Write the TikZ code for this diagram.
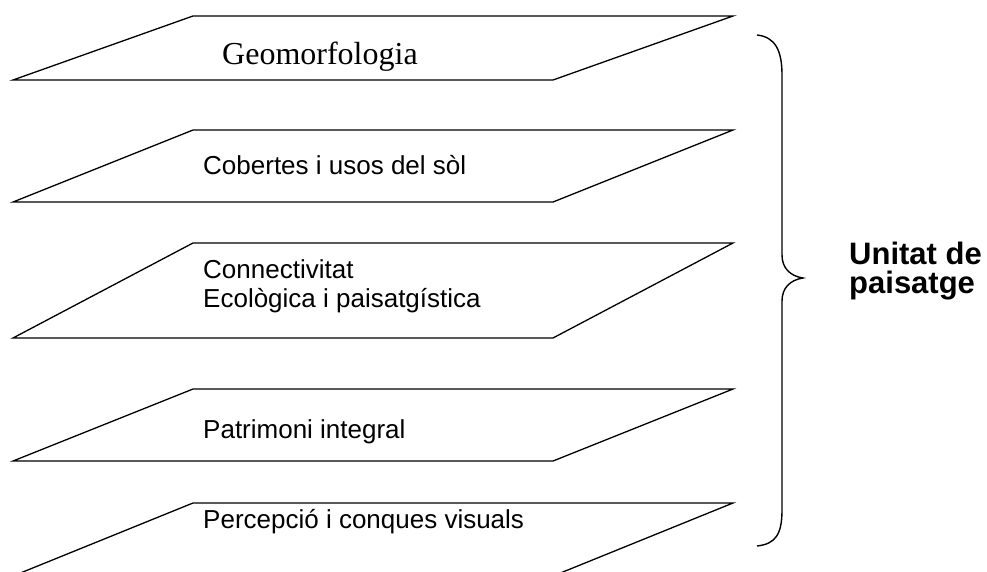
\documentclass[tikz,border=0pt]{standalone}
\usepackage{fontspec}
\setmainfont{Liberation Sans}
\newfontfamily\geofont{Liberation Serif}
\usetikzlibrary{positioning}

\begin{document}
\begin{tikzpicture}[x=1pt, y=-1pt,
    every node/.style={inner sep=0pt, font=\fontsize{26}{30}\selectfont},
    layer/.style={draw=black, line width=1.3pt, line join=miter},
    lbl/.style={anchor=base west},
    big/.style={anchor=base west, font=\bfseries\fontsize{31}{35}\selectfont},
    brace/.style={draw=black, line width=1.4pt}]

  \useasboundingbox (0,0) rectangle (987,572);
  \clip (0,0) rectangle (987,572);

  % capes
  \foreach \ytop/\ybot in {16/80, 130/202, 243/338, 389/461, 503/576}
    \draw[layer] (193,\ytop) -- (733,\ytop) -- (553,\ybot) -- (13,\ybot) -- cycle;

  \node[lbl, font=\geofont\fontsize{32}{36}\selectfont] (geo) at (222,65) {Geomorfologia};
  \node[lbl] (cob) at (203,175) {Cobertes i usos del sòl};
  \node[lbl] (con) at (203,278) {Connectivitat};
  \node[lbl] (eco) at (203,307) {Ecològica i paisatgística};
  \node[lbl] (pat) at (203,438) {Patrimoni integral};
  \node[lbl] (per) at (203,528) {Percepció i conques visuals};

  % clau
  \draw[brace] (757,35) .. controls (775,37) and (782,50) .. (782,75)
    -- (782,255) .. controls (782,268) and (790,276) .. (803,278)
    .. controls (790,280) and (782,288) .. (782,301)
    -- (782,510) .. controls (782,535) and (775,544) .. (757,546);

  \node[big] (uni) at (849,264) {Unitat de};
  \node[big] (pai) at (849,293) {paisatge};
\end{tikzpicture}
\end{document}
